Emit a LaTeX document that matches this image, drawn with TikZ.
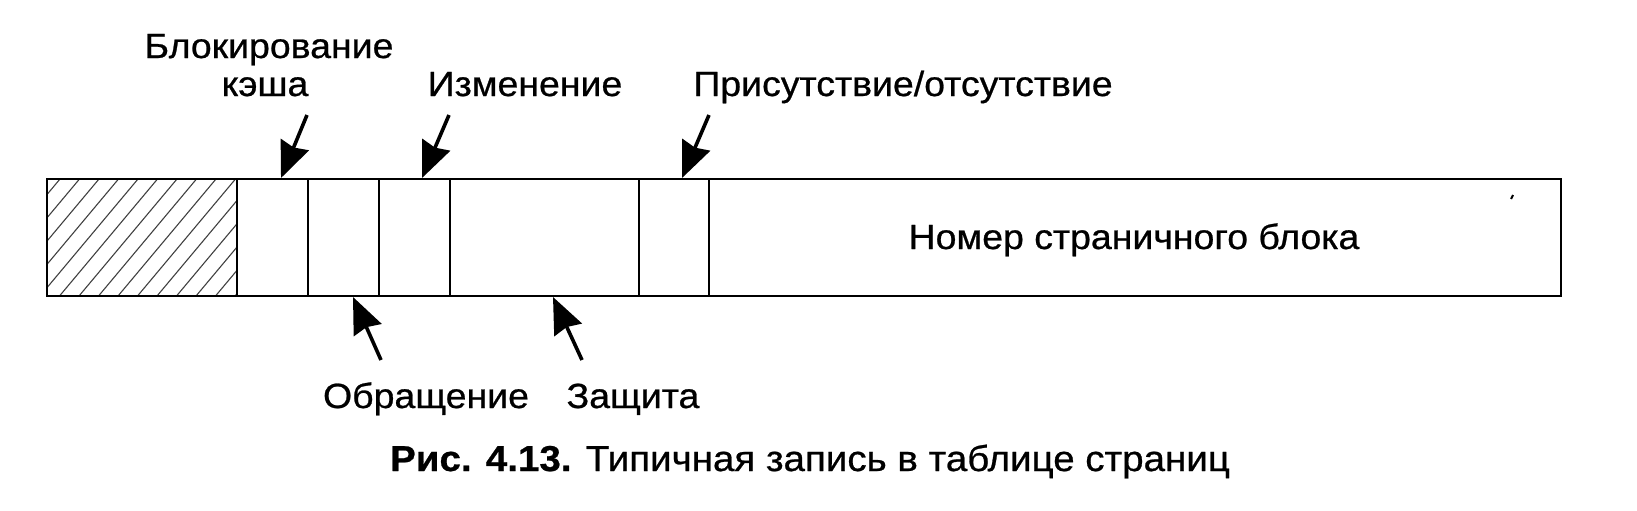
\documentclass[tikz,border=0pt]{standalone}
\usepackage{fontspec}
\setmainfont{Liberation Sans}[FakeStretch=1.07,FakeBold=0.7]
\usetikzlibrary{arrows.meta}
\begin{document}
\begin{tikzpicture}[x=0.5pt,y=-0.5pt,
  lab/.style={font=\fontsize{17.5pt}{20pt}\selectfont, inner sep=0pt, anchor=base},
  captext/.style={font=\fontsize{18pt}{21pt}\selectfont, inner sep=0pt, anchor=base},
  ptr/.style={line width=1.8pt, -{Stealth[length=18pt,width=15pt,inset=1.5pt]}},
  frameline/.style={line width=1.4pt},
  divider/.style={line width=1.1pt},
  hatchline/.style={line width=0.55pt, black!75}]
\useasboundingbox (0,0) rectangle (1637,510);
% hatched field
\begin{scope}
  \clip (47,179) rectangle (237,296);
  \foreach \k in {-1,...,15} \draw[hatchline] ({60+19.5*\k},179) -- ++(-98,117);
\end{scope}
% frame and dividers
\draw[frameline] (47,179) rectangle (1561,296);
\foreach \xx in {237,308,379,450,639,709} \draw[divider] (\xx,179) -- (\xx,296);
% speck
\draw[line width=1pt] (1511,199) -- (1513,195);
% labels
\node[lab] (blk1) at (269,58) {Блокирование};
\node[lab] (blk2) at (265,96) {кэша};
\node[lab] (izm) at (525,96) {Изменение};
\node[lab] (pris) at (903,96) {Присутствие/отсутствие};
\node[lab] (nomer) at (1134,249) {Номер страничного блока};
\node[lab] (obr) at (426,408) {Обращение};
\node[lab] (zash) at (633,408) {Защита};
\node[captext] (cap) at (810,471) {{\bfseries Рис. 4.13.} Типичная запись в таблице страниц};
% arrow ends
\coordinate (a1s) at (307,115); \coordinate (a1e) at (281,178);
\coordinate (a2s) at (449,115); \coordinate (a2e) at (422,178);
\coordinate (a3s) at (709,115); \coordinate (a3e) at (682,178);
\coordinate (b1s) at (381,360); \coordinate (b1e) at (353,297);
\coordinate (b2s) at (582,360); \coordinate (b2e) at (553,297);
\draw[ptr] (a1s) -- (a1e);
\draw[ptr] (a2s) -- (a2e);
\draw[ptr] (a3s) -- (a3e);
\draw[ptr] (b1s) -- (b1e);
\draw[ptr] (b2s) -- (b2e);
\end{tikzpicture}
\end{document}
